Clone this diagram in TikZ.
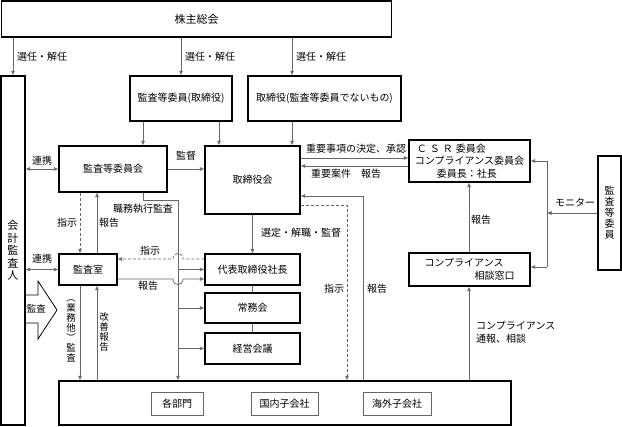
\documentclass[tikz,border=0pt]{standalone}
\usepackage{fontspec}
\setmainfont{Noto Sans CJK JP}
\usetikzlibrary{arrows.meta}
\begin{document}
\begin{tikzpicture}[x=1pt,y=-1pt,
  box/.style={draw=black, line width=1.1pt, inner sep=0pt, font=\fontsize{10}{12}\selectfont},
  sub/.style={draw=black!60, line width=0.8pt, inner sep=0pt, font=\fontsize{10}{12}\selectfont},
  conn/.style={draw=black!60, line width=0.7pt},
  arr/.style={conn, -{Latex[length=4.5pt,width=4pt]}},
  darr/.style={conn, {Latex[length=4.5pt,width=4pt]}-{Latex[length=4.5pt,width=4pt]}},
  dsh/.style={dash pattern=on 3pt off 2pt},
  lbl/.style={inner sep=0pt, font=\fontsize{10}{12}\selectfont},
  vlbl/.style={inner sep=0pt, align=center, font=\fontsize{9.5}{10}\selectfont},
]
\useasboundingbox (0,0) rectangle (622,427);

% helper coordinates
\coordinate (x80) at (80,0);
\coordinate (x97) at (97,0);
\coordinate (x143) at (143,0);
\coordinate (x219) at (219,0);
\coordinate (x292) at (292,0);
\coordinate (x347) at (347,0);
\coordinate (x363) at (363,0);
\coordinate (x469) at (469,0);
\coordinate (c178) at (178,200);
\coordinate (y158) at (0,158);
\coordinate (y166) at (0,166);
\coordinate (y196) at (0,196);
\coordinate (y205) at (0,205);
\coordinate (y259) at (0,259);
\coordinate (y279) at (0,279);
\coordinate (jn) at (547,212);
\coordinate (y267) at (0,267);
\coordinate (hopL1) at (173,279);
\coordinate (hopR1) at (183,279);
\coordinate (hopL0) at (173,259);
\coordinate (hopR0) at (183,259);

% boxes
\node[box, minimum width=390pt, minimum height=36pt, font=\fontsize{11}{13}\selectfont] (sh) at (196.5,19) {株主総会};
\node[box, minimum width=24pt, minimum height=349pt, align=center, font=\fontsize{11}{12.5}\selectfont] (kaikei) at (13,250.5) {会\\計\\監\\査\\人};
\node[box, minimum width=102pt, minimum height=45pt] (kanin) at (181,98.5) {監査等委員(取締役)};
\node[box, minimum width=153pt, minimum height=45pt] (tori) at (324.5,98.5) {取締役(監査等委員でないもの)};
\node[box, minimum width=108pt, minimum height=46pt] (iinkai) at (113,169) {監査等委員会};
\node[box, minimum width=95pt, minimum height=68pt] (torikai) at (252.5,180) {取締役会};
\node[box, minimum width=58pt, minimum height=31pt] (kansa) at (88,269.5) {監査室};
\node[box, minimum width=95pt, minimum height=31pt] (daihyo) at (252.5,269.5) {代表取締役社長};
\node[box, minimum width=95pt, minimum height=30pt] (jomu) at (252.5,308) {常務会};
\node[box, minimum width=95pt, minimum height=31pt] (keiei) at (252.5,348.5) {経営会議};
\node[box, minimum width=452pt, minimum height=44pt] (bottom) at (285,403) {};
\node[sub, minimum width=52pt, minimum height=23pt] (kakubu) at (177,403.5) {各部門};
\node[sub, minimum width=67pt, minimum height=23pt] (kokunai) at (284.5,403.5) {国内子会社};
\node[sub, minimum width=68pt, minimum height=23pt] (kaigai) at (397,403.5) {海外子会社};
\node[box, minimum width=121pt, minimum height=42pt, align=left, font=\fontsize{10}{12.5}\selectfont] (csr) at (469.5,161)
  {\hspace{2pt}Ｃ\kern3pt Ｓ\kern3pt Ｒ\kern3pt 委員会\\コンプライアンス委員会\\\hspace{22pt}委員長：社長};
\node[box, minimum width=121pt, minimum height=33pt, align=left, font=\fontsize{10}{13}\selectfont] (soudan) at (469.5,269.5)
  {コンプライアンス\\\hspace{50pt}相談窓口};
\node[box, minimum width=23pt, minimum height=114pt, align=center, font=\fontsize{10}{11}\selectfont] (kanR) at (609.5,213) {監\\査\\等\\委\\員};

% from shareholders
\draw[arr] (sh.south -| kaikei.north) -- (kaikei.north);
\draw[arr] (sh.south -| kanin.north) -- (kanin.north);
\draw[arr] (sh.south -| x292) -- (tori.north -| x292);
\node[lbl] (l1) at (42,57) {選任・解任};
\node[lbl] (l2) at (210,57) {選任・解任};
\node[lbl] (l3) at (321,57) {選任・解任};

% to boards
\draw[arr] (kanin.south -| x143) -- (iinkai.north -| x143);
\draw[arr] (kanin.south -| x219) -- (torikai.north -| x219);
\draw[arr] (tori.south -| x292) -- (torikai.north -| x292);

% iinkai - torikai
\draw[arr] (iinkai.east) -- (iinkai.east -| torikai.west);
\node[lbl] (lkantoku) at (186,156) {監督};

% renkei
\draw[darr] (kaikei.east |- iinkai.west) -- (iinkai.west);
\node[lbl] (lr1) at (42,161) {連携};
\draw[darr] (kaikei.east |- kansa.west) -- (kansa.west);
\node[lbl] (lr2) at (42,259) {連携};

% iinkai - kansa
\draw[arr, dsh] (iinkai.south -| x80) -- (kansa.north -| x80);
\node[lbl] (lshiji1) at (67,223) {指示};
\draw[arr] (kansa.north -| x97) -- (iinkai.south -| x97);
\node[lbl] (lhoukoku1) at (109,223) {報告};

% shokumu shikko kansa
\draw[arr] (iinkai.south -| x143) |- (c178) -- (bottom.north -| c178);
\node[lbl] (lshokumu) at (143,209) {職務執行監査};
\draw[arr] (daihyo.west -| c178) -- (daihyo.west);
\draw[arr] (jomu.west -| c178) -- (jomu.west);
\draw[arr] (keiei.west -| c178) -- (keiei.west);

% kansa <-> daihyo with hops
\draw[conn, -{Latex[length=4.5pt,width=4pt]}] (kansa.east |- y279) -- (hopL1) .. controls +(0,7.5) and +(0,7.5) .. (hopR1) -- (daihyo.west |- y279);
\node[lbl] (lhoukoku2) at (148,286) {報告};
\draw[conn, dsh, -{Latex[length=4.5pt,width=4pt]}] (daihyo.west |- y259) -- (hopR0) .. controls +(0,-7.5) and +(0,-7.5) .. (hopL0) -- (kansa.east |- y259);
\node[lbl] (lshiji2) at (150,251) {指示};

% torikai - daihyo
\draw[arr] (torikai.south) -- (daihyo.north);
\node[lbl] (lsentei) at (301,233) {選定・解職・監督};
\draw[conn] (daihyo.south) -- (jomu.north);
\draw[conn] (jomu.south) -- (keiei.north);

% torikai <-> csr
\draw[arr] (torikai.east |- y158) -- (csr.west |- y158);
\node[lbl] (ljuyo1) at (356,148.5) {重要事項の決定、承認};
\draw[arr] (csr.west |- y166) -- (torikai.east |- y166);
\node[lbl] (ljuyo2) at (346,174) {重要案件　報告};

% bottom <-> torikai
\draw[arr] (bottom.north -| x363) |- (torikai.east |- y196);
\node[lbl] (lhoukoku3) at (377,289) {報告};
\draw[arr, dsh] (torikai.east |- y205) -| (bottom.north -| x347);
\node[lbl] (lshiji3) at (334,289) {指示};

% compliance
\draw[arr] (soudan.north -| x469) -- (csr.south -| x469);
\node[lbl] (lhoukoku4) at (481,220) {報告};
\draw[arr] (bottom.north -| x469) -- (soudan.south -| x469);
\node[lbl, align=left, anchor=west, font=\fontsize{10}{13}\selectfont] (ltsuho) at (476,332.5) {コンプライアンス\\通報、相談};

% monitor
\draw[arr] (kanR.west) -- (kanR.west -| jn);
\node[lbl] (lmon) at (575,203) {モニター};
\draw[conn] (jn |- csr.east) -- (jn |- y267);
\draw[arr] (jn |- csr.east) -- (csr.east);
\draw[arr] (jn |- y267) -- (soudan.east |- y267);

% kansa <-> bottom
\draw[arr] (kansa.south -| x80) -- (bottom.north -| x80);
\node[vlbl] (lgyomu) at (71,331) {︵\\業\\務\\他\\︶\\監\\査};
\draw[arr] (bottom.north -| x97) -- (kansa.south -| x97);
\node[vlbl] (lkaizen) at (104,332) {改\\善\\報\\告};

% kansa block arrow
\coordinate (ba1) at (25,295);
\draw[line width=0.8pt, line join=miter] (ba1) -- (38,295) -- (38,281) -- (57,310) -- (38,339) -- (38,323) -- (25,323);
\node[lbl, font=\fontsize{9.5}{11}\selectfont] (lkansa) at (36.5,309) {監査};

\end{tikzpicture}
\end{document}
